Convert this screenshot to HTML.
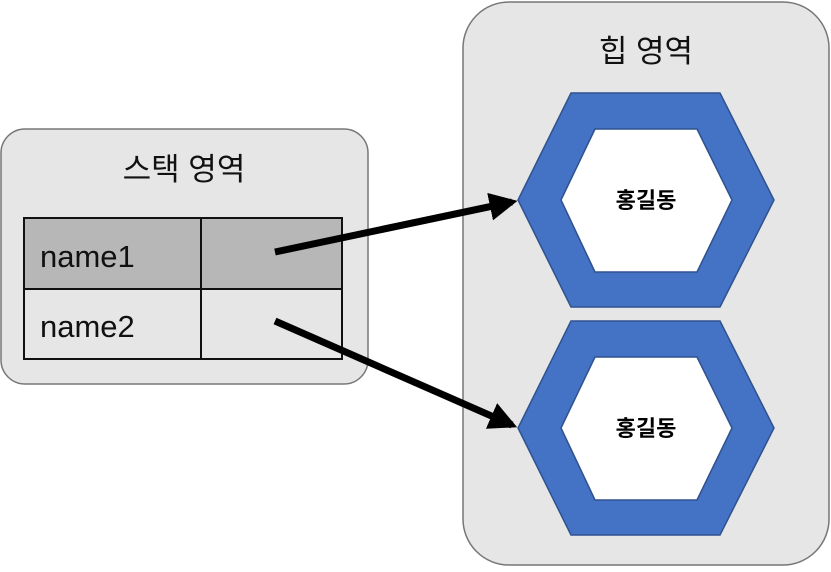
<!DOCTYPE html>
<html><head><meta charset="utf-8"><style>body{margin:0;background:#fff}</style></head><body>
<svg width="831" height="567" xmlns="http://www.w3.org/2000/svg" font-family="'Liberation Sans','Noto Sans CJK KR',sans-serif">
<defs><marker id="a" markerWidth="4" markerHeight="4" refX="3.2" refY="2" orient="auto" markerUnits="strokeWidth"><path d="M0,0 L4,2 L0,4 z" fill="#000"/></marker></defs>
<rect x="1" y="129" width="367" height="255" rx="24" fill="#e6e6e6" stroke="#777" stroke-width="1.5"/>
<rect x="463" y="2" width="366" height="563" rx="46" fill="#e6e6e6" stroke="#777" stroke-width="1.5"/>
<text x="184" y="180" font-size="31" text-anchor="middle" fill="#111">스택 영역</text>
<text x="646" y="62" font-size="31" text-anchor="middle" fill="#111">힙 영역</text>
<rect x="24" y="218" width="318" height="71" fill="#b7b7b7"/>
<rect x="24" y="289" width="318" height="70" fill="#e6e6e6"/>
<g stroke="#111" stroke-width="2" fill="none"><rect x="24" y="218" width="318" height="141"/><line x1="24" y1="289" x2="342" y2="289"/><line x1="201" y1="218" x2="201" y2="359"/></g>
<text x="40" y="267" font-size="31" fill="#111">name1</text>
<text x="40" y="337" font-size="31" fill="#111">name2</text>
<g id="h"><polygon points="571,93 720,93 774,200 720,307 571,307 518,200" fill="#4472c4" stroke="#2f528f" stroke-width="1.5"/>
<polygon points="595,129 697,129 732,200 697,272 595,272 561,200" fill="#fff" stroke="#2f528f" stroke-width="1.5"/>
<text x="646" y="208" font-size="22" font-weight="bold" text-anchor="middle" fill="#000">홍길동</text></g>
<use href="#h" y="228"/>
<line x1="275" y1="252" x2="512" y2="202" stroke="#000" stroke-width="7" marker-end="url(#a)"/>
<line x1="275" y1="321" x2="512" y2="425" stroke="#000" stroke-width="7" marker-end="url(#a)"/>
</svg>
</body></html>
